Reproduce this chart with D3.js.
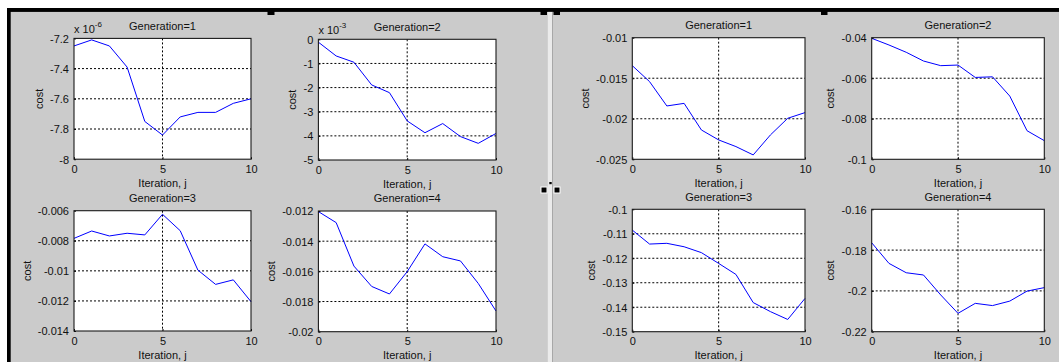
<!DOCTYPE html>
<html>
<head>
<meta charset="utf-8">
<script src="https://cdn.jsdelivr.net/npm/d3@7"></script>
<style>
  html, body { margin: 0; padding: 0; background: #ffffff; }
  svg { display: block; font-family: "Liberation Sans", Arial, sans-serif; }
</style>
</head>
<body>
<svg id="chart" width="1059" height="362"></svg>
<script>
// ---- data -------------------------------------------------------------
const iterations = [0, 1, 2, 3, 4, 5, 6, 7, 8, 9, 10];
const generationTitles = ["Generation=1", "Generation=2", "Generation=3", "Generation=4"];
const xTicks = [0, 5, 10];
const xTickLabels = ["0", "5", "10"];
const xAxisLabel = "Iteration, j";
const yAxisLabel = "cost";

// left figure, generations 1-4
const leftGen1Cost = [-7.25e-6, -7.21e-6, -7.25e-6, -7.39e-6, -7.75e-6, -7.84e-6, -7.72e-6, -7.69e-6, -7.69e-6, -7.63e-6, -7.60e-6];
const leftGen2Cost = [-0.12e-3, -0.69e-3, -0.95e-3, -1.89e-3, -2.21e-3, -3.38e-3, -3.87e-3, -3.49e-3, -4.03e-3, -4.31e-3, -3.90e-3];
const leftGen3Cost = [-0.00784, -0.00735, -0.00768, -0.0075, -0.00761, -0.00624, -0.00733, -0.00995, -0.0109, -0.0106, -0.01205];
const leftGen4Cost = [-0.01204, -0.01277, -0.01565, -0.0170, -0.0175, -0.01602, -0.01418, -0.01503, -0.01531, -0.0168, -0.01863];

// right figure, generations 1-4
const rightGen1Cost = [-0.01345, -0.01542, -0.01842, -0.0181, -0.02138, -0.02261, -0.02343, -0.02446, -0.02199, -0.01994, -0.01924];
const rightGen2Cost = [-0.0403, -0.0436, -0.0472, -0.0515, -0.0538, -0.0535, -0.0596, -0.0593, -0.0688, -0.0859, -0.0908];
const rightGen3Cost = [-0.1085, -0.1142, -0.1139, -0.1153, -0.1177, -0.1221, -0.1266, -0.1381, -0.1418, -0.1450, -0.1364];
const rightGen4Cost = [-0.1764, -0.1865, -0.1911, -0.1922, -0.2020, -0.2110, -0.2061, -0.2072, -0.2050, -0.2001, -0.1984];

// y ticks and their labels
const leftGen1YTicks = [-8e-6, -7.8e-6, -7.6e-6, -7.4e-6, -7.2e-6];
const leftGen1YTickLabels = ["-8", "-7.8", "-7.6", "-7.4", "-7.2"];
const leftGen1Exponent = "-6";
const leftGen2YTicks = [-5e-3, -4e-3, -3e-3, -2e-3, -1e-3, 0];
const leftGen2YTickLabels = ["-5", "-4", "-3", "-2", "-1", "0"];
const leftGen2Exponent = "-3";
const leftGen3YTicks = [-0.014, -0.012, -0.010, -0.008, -0.006];
const leftGen3YTickLabels = ["-0.014", "-0.012", "-0.01", "-0.008", "-0.006"];
const leftGen4YTicks = [-0.020, -0.018, -0.016, -0.014, -0.012];
const leftGen4YTickLabels = ["-0.02", "-0.018", "-0.016", "-0.014", "-0.012"];
const rightGen1YTicks = [-0.025, -0.020, -0.015, -0.010];
const rightGen1YTickLabels = ["-0.025", "-0.02", "-0.015", "-0.01"];
const rightGen2YTicks = [-0.10, -0.08, -0.06, -0.04];
const rightGen2YTickLabels = ["-0.1", "-0.08", "-0.06", "-0.04"];
const rightGen3YTicks = [-0.15, -0.14, -0.13, -0.12, -0.11, -0.10];
const rightGen3YTickLabels = ["-0.15", "-0.14", "-0.13", "-0.12", "-0.11", "-0.1"];
const rightGen4YTicks = [-0.22, -0.20, -0.18, -0.16];
const rightGen4YTickLabels = ["-0.22", "-0.2", "-0.18", "-0.16"];

// ---- layout -----------------------------------------------------------
const W = 1059, H = 362;
const svg = d3.select("#chart");

// window chrome: white strip, dark frame line, grey figure area
svg.append("rect").attr("x", 0).attr("y", 0).attr("width", W).attr("height", H).attr("fill", "#ffffff");
svg.append("rect").attr("x", 9).attr("y", 10).attr("width", W - 9).attr("height", H - 10).attr("fill", "#cbcbcb");
svg.append("rect").attr("x", 7).attr("y", 8).attr("width", W - 7).attr("height", 3.7).attr("fill", "#000");
svg.append("rect").attr("x", 7).attr("y", 8).attr("width", 3.7).attr("height", H - 8).attr("fill", "#000");

// splitter between the two figures
svg.append("rect").attr("x", 547.8).attr("y", 11.7).attr("width", 4.2).attr("height", H - 11.7).attr("fill", "#ebebeb");
svg.append("line").attr("x1", 552.5).attr("x2", 552.5).attr("y1", 11.7).attr("y2", H).attr("stroke", "#a8a8a8").attr("stroke-width", 1);

const panels = [
  { box: [74, 38.4, 177, 120.8], title: generationTitles[0], values: leftGen1Cost, ticks: leftGen1YTicks, labels: leftGen1YTickLabels, exponent: leftGen1Exponent },
  { box: [318.4, 39.3, 177.6, 120.7], title: generationTitles[1], values: leftGen2Cost, ticks: leftGen2YTicks, labels: leftGen2YTickLabels, exponent: leftGen2Exponent },
  { box: [74, 210.7, 177, 120.3], title: generationTitles[2], values: leftGen3Cost, ticks: leftGen3YTicks, labels: leftGen3YTickLabels },
  { box: [318.4, 211, 177.6, 120.7], title: generationTitles[3], values: leftGen4Cost, ticks: leftGen4YTicks, labels: leftGen4YTickLabels },
  { box: [632.3, 37.7, 172.7, 121.6], title: generationTitles[0], values: rightGen1Cost, ticks: rightGen1YTicks, labels: rightGen1YTickLabels },
  { box: [871.7, 37.7, 172.6, 121.6], title: generationTitles[1], values: rightGen2Cost, ticks: rightGen2YTicks, labels: rightGen2YTickLabels },
  { box: [632.3, 209.3, 172.7, 122.4], title: generationTitles[2], values: rightGen3Cost, ticks: rightGen3YTicks, labels: rightGen3YTickLabels },
  { box: [871.7, 209.3, 172.6, 122.4], title: generationTitles[3], values: rightGen4Cost, ticks: rightGen4YTicks, labels: rightGen4YTickLabels }
];

const textColor = "#111";
const fontSize = 11;

panels.forEach(p => {
  const [bx, by, bw, bh] = p.box;
  const x = d3.scaleLinear().domain(d3.extent(xTicks)).range([bx, bx + bw]);
  const y = d3.scaleLinear().domain(d3.extent(p.ticks)).range([by + bh, by]);
  const g = svg.append("g");

  // plot area
  g.append("rect").attr("x", bx).attr("y", by).attr("width", bw).attr("height", bh).attr("fill", "#ffffff");

  // dotted grid at interior ticks
  const yInner = p.ticks.slice(1, -1);
  const xInner = xTicks.slice(1, -1);
  g.selectAll(".hgrid").data(yInner).join("line")
    .attr("x1", bx).attr("x2", bx + bw)
    .attr("y1", d => y(d)).attr("y2", d => y(d))
    .attr("stroke", "#000").attr("stroke-width", 1).attr("stroke-dasharray", "2,2");
  g.selectAll(".vgrid").data(xInner).join("line")
    .attr("x1", d => x(d)).attr("x2", d => x(d))
    .attr("y1", by).attr("y2", by + bh)
    .attr("stroke", "#000").attr("stroke-width", 1).attr("stroke-dasharray", "2,2");

  // cost curve
  const line = d3.line().x((d, i) => x(iterations[i])).y(d => y(d));
  g.append("path").datum(p.values)
    .attr("d", line).attr("fill", "none")
    .attr("stroke", "#0000ff").attr("stroke-width", 1);

  // axes: ticks drawn inward, labels outside
  const yAxis = d3.axisLeft(y).tickValues(p.ticks).tickSize(-2).tickPadding(5)
    .tickFormat((d, i) => p.labels[i]);
  const xAxis = d3.axisBottom(x).tickValues(xTicks).tickSize(-2).tickPadding(6)
    .tickFormat((d, i) => xTickLabels[i]);

  const ya = g.append("g").attr("transform", `translate(${bx},0)`).call(yAxis);
  const xa = g.append("g").attr("transform", `translate(0,${by + bh})`).call(xAxis);
  [ya, xa].forEach(a => {
    a.select(".domain").remove();
    a.selectAll(".tick line").attr("stroke", "#000");
    a.selectAll("text").attr("fill", textColor).attr("font-size", fontSize)
      .attr("font-family", '"Liberation Sans", Arial, sans-serif');
  });
  ya.selectAll("text").attr("dy", "0.36em");

  // box outline
  g.append("rect").attr("x", bx).attr("y", by).attr("width", bw).attr("height", bh)
    .attr("fill", "none").attr("stroke", "#1a1a1a").attr("stroke-width", 1.1);

  // title
  g.append("text").attr("x", bx + bw / 2).attr("y", by - 8.6)
    .attr("text-anchor", "middle").attr("fill", textColor).attr("font-size", fontSize)
    .text(p.title);

  // x label
  g.append("text").attr("x", bx + bw / 2).attr("y", by + bh + 27.6)
    .attr("text-anchor", "middle").attr("fill", textColor).attr("font-size", fontSize)
    .text(xAxisLabel);

  // y label, placed past the widest tick label
  let maxW = 0;
  ya.selectAll("text").each(function () { maxW = Math.max(maxW, this.getComputedTextLength()); });
  const ylx = bx - 3.5 - maxW - 12.5;
  g.append("text")
    .attr("transform", `translate(${ylx},${by + bh / 2}) rotate(-90)`)
    .attr("text-anchor", "middle").attr("dy", "0.35em")
    .attr("fill", textColor).attr("font-size", fontSize)
    .text(yAxisLabel);

  // axis scale exponent
  if (p.exponent) {
    const t = g.append("text").attr("x", bx).attr("y", by - 5.2)
      .attr("fill", textColor).attr("font-size", fontSize);
    t.append("tspan").text("x 10");
    t.append("tspan").attr("font-size", 8).attr("dy", -6.5).text(p.exponent);
  }
});

// selection handles on the figure frame
const handles = [
  [267.5, 8, 7, 7], [540.5, 8, 6.5, 7], [553.5, 8, 6.5, 7], [821, 8, 6.5, 7]
];
handles.forEach(h => {
  svg.append("rect").attr("x", h[0]).attr("y", h[1]).attr("width", h[2]).attr("height", h[3]).attr("fill", "#000");
});
svg.append("rect").attr("x", 8.7).attr("y", 8).attr("width", W).attr("height", 3.7).attr("fill", "#000");
[[541, 187], [554, 187]].forEach(h => {
  svg.append("rect").attr("x", h[0]).attr("y", h[1]).attr("width", 6).attr("height", 6)
    .attr("fill", "#000").attr("stroke", "#fff").attr("stroke-width", 1);
});
svg.append("rect").attr("x", 549.3).attr("y", 182).attr("width", 2.4).attr("height", 2.2).attr("fill", "#000");
</script>
</body>
</html>
